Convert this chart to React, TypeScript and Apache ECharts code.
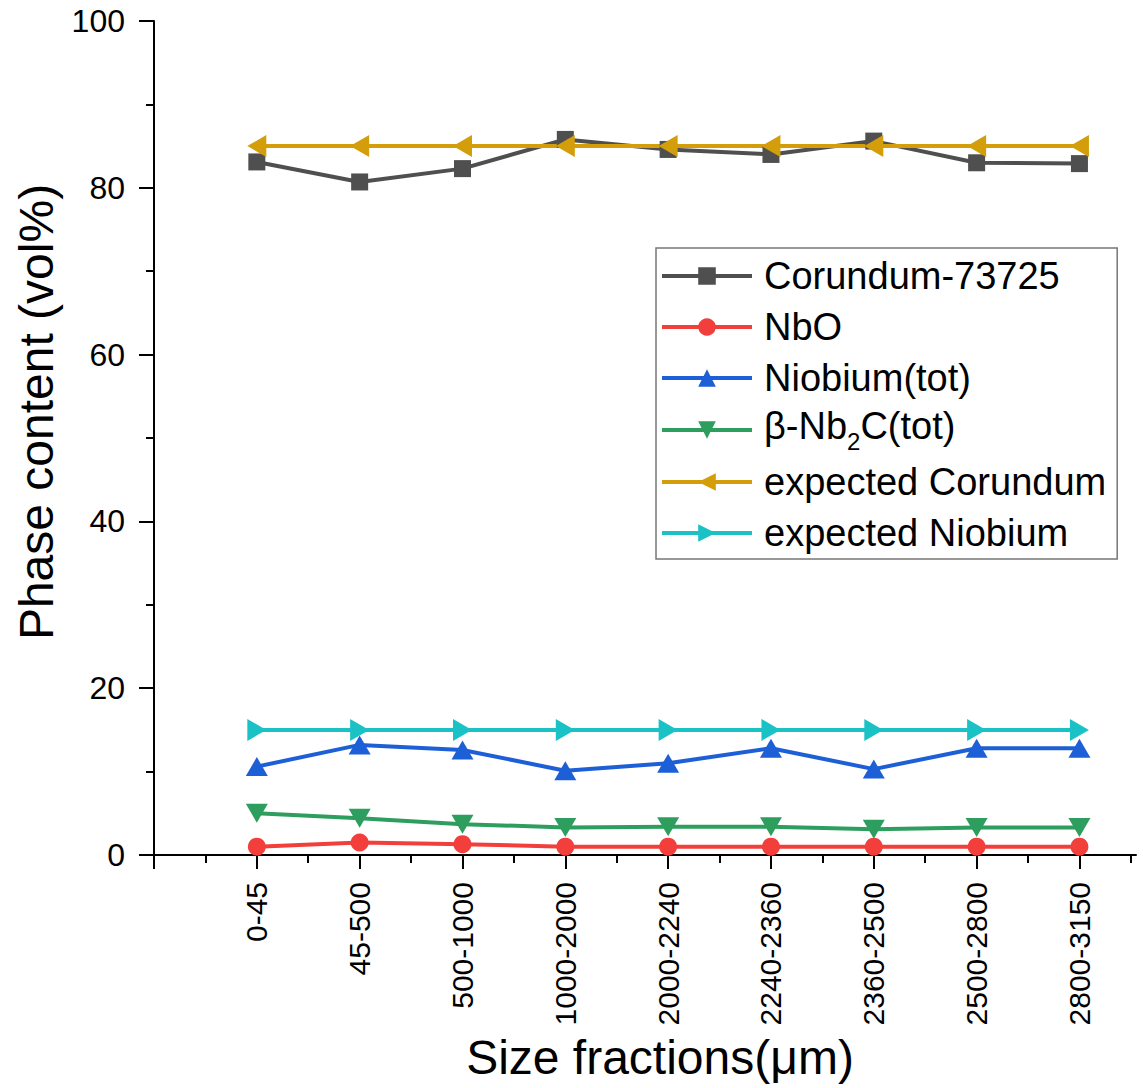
import React, { useEffect, useRef } from "react";
import * as echarts from "echarts";

const categories = ["0-45", "45-500", "500-1000", "1000-2000", "2000-2240", "2240-2360", "2360-2500", "2500-2800", "2800-3150"];
const corundum73725 = [83.1, 80.7, 82.3, 85.8, 84.6, 84.0, 85.6, 83.0, 82.9];
const nbo = [1.0, 1.5, 1.3, 1.0, 1.0, 1.0, 1.0, 1.0, 1.0];
const niobiumTot = [10.6, 13.2, 12.6, 10.1, 11.0, 12.8, 10.3, 12.8, 12.8];
const nb2cTot = [5.0, 4.4, 3.7, 3.3, 3.4, 3.4, 3.1, 3.3, 3.3];
const expectedCorundum = [85, 85, 85, 85, 85, 85, 85, 85, 85];
const expectedNiobium = [15, 15, 15, 15, 15, 15, 15, 15, 15];
const yTicks = [0, 20, 40, 60, 80, 100];

const FONT = 'Arial, "Liberation Sans", sans-serif';

const SYM_DOWN = "path://M0,0L20,0L10,17Z";
const SYM_LEFT = "path://M0,10L18,0L18,20Z";
const SYM_RIGHT = "path://M0,0L18,10L0,20Z";

function toPairs(vals: number[]) {
  return vals.map((v, i) => [i, v]);
}

export default function App() {
  const ref = useRef<HTMLDivElement>(null);
  useEffect(() => {
    if (!ref.current) return;
    const chart = echarts.init(ref.current, null, { renderer: "svg" });
    const mk = (name: string, data: number[], color: string, symbol: string, symbolSize: any) => ({
      name,
      type: "line",
      data: toPairs(data),
      symbol,
      symbolSize,
      lineStyle: { color, width: 4 },
      itemStyle: { color },
      emphasis: { disabled: true },
    });
    chart.setOption({
      animation: false,
      backgroundColor: "#ffffff",
      textStyle: { fontFamily: FONT },
      grid: { left: 154, right: 7, top: 21, bottom: 233, containLabel: false },
      legend: {
        orient: "vertical",
        left: 656,
        top: 248,
        itemWidth: 90,
        itemHeight: 22,
        itemGap: 7,
        padding: [6, 11, 4, 4],
        borderColor: "#777777",
        borderWidth: 1.5,
        backgroundColor: "#ffffff",
        selectedMode: false,
        lineStyle: { width: 4 },
        data: ["Corundum-73725", "NbO", "Niobium(tot)", "β-Nb2C(tot)", "expected Corundum", "expected Niobium"],
        formatter: (name: string) => (name === "β-Nb2C(tot)" ? "{b|β-Nb}{s|2}{b|C(tot)}" : name),
        textStyle: {
          fontFamily: FONT,
          fontSize: 38,
          lineHeight: 44,
          color: "#000",
          padding: [0, 0, 0, 7],
          rich: {
            b: { fontFamily: FONT, fontSize: 38, lineHeight: 44, verticalAlign: "top", color: "#000" },
            s: { fontFamily: FONT, fontSize: 24, lineHeight: 46, verticalAlign: "bottom", color: "#000" },
          },
        },
      },
      xAxis: {
        type: "value",
        min: -1,
        max: 8.55,
        interval: 1,
        name: "Size fractions(μm)",
        nameLocation: "middle",
        nameGap: 177,
        nameTextStyle: { fontFamily: FONT, fontSize: 48, color: "#000", padding: [0, 0, 0, 30] },
        splitLine: { show: false },
        axisLine: { show: true, onZero: false, lineStyle: { color: "#000", width: 2 } },
        axisTick: { show: true, length: 14, customValues: [-1, 0, 1, 2, 3, 4, 5, 6, 7, 8], lineStyle: { color: "#000", width: 2 } },
        minorTick: { show: true, splitNumber: 2, length: 8, lineStyle: { color: "#000", width: 2 } },
        axisLabel: {
          rotate: 90,
          margin: 27,
          fontFamily: FONT,
          fontSize: 30,
          color: "#000",
          customValues: [0, 1, 2, 3, 4, 5, 6, 7, 8],
          formatter: (v: number) => (Number.isInteger(v) && v >= 0 && v < categories.length ? categories[v] : ""),
        },
      },
      yAxis: {
        type: "value",
        min: 0,
        max: 100,
        interval: 20,
        name: "Phase content (vol%)",
        nameLocation: "middle",
        nameGap: 92,
        nameRotate: 90,
        nameTextStyle: { fontFamily: FONT, fontSize: 48, color: "#000", padding: [0, 0, 0, 52] },
        splitLine: { show: false },
        axisLine: { show: true, onZero: false, lineStyle: { color: "#000", width: 2 } },
        axisTick: { show: true, length: 15, lineStyle: { color: "#000", width: 2 } },
        minorTick: { show: true, splitNumber: 2, length: 8, lineStyle: { color: "#000", width: 2 } },
        axisLabel: {
          margin: 29,
          fontFamily: FONT,
          fontSize: 32,
          color: "#000",
          formatter: (v: number) => (yTicks.includes(v) ? String(v) : ""),
        },
      },
      series: [
        mk("Corundum-73725", corundum73725, "#4f4f4f", "rect", 17),
        mk("NbO", nbo, "#f23f3c", "circle", 18),
        mk("Niobium(tot)", niobiumTot, "#1d5fd6", "triangle", [22, 19]),
        mk("β-Nb2C(tot)", nb2cTot, "#2e9e5e", SYM_DOWN, [22, 19]),
        mk("expected Corundum", expectedCorundum, "#d39e0a", SYM_LEFT, [19, 22]),
        mk("expected Niobium", expectedNiobium, "#1ac2c6", SYM_RIGHT, [19, 22]),
      ],
    });
    return () => chart.dispose();
  }, []);
  return (
    <div
      ref={ref}
      style={{ position: "absolute", left: 0, top: 0, width: 1143, height: 1088, background: "#fff" }}
    />
  );
}
